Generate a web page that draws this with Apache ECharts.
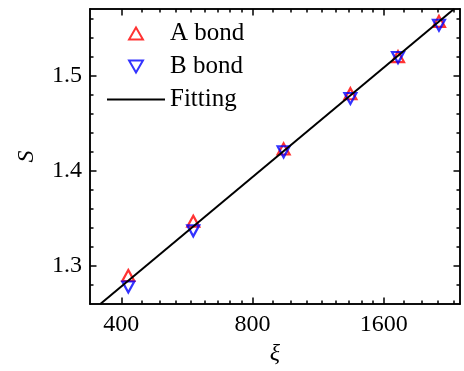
<!DOCTYPE html>
<html>
<head>
<meta charset="utf-8">
<script src="https://cdn.jsdelivr.net/npm/echarts@6/dist/echarts.min.js"></script>
<style>
html,body{margin:0;padding:0;background:#fff;}
#c{width:464px;height:371px;}
</style>
</head>
<body>
<div id="c"></div>
<script>
// ---- data ----
const xi = [415, 585, 943, 1342, 1726, 2143];
const sA = [1.290, 1.347, 1.423, 1.481, 1.520, 1.557];
const sB = [1.278, 1.337, 1.420, 1.476, 1.519, 1.553];
const fitXi = [358, 2320];
const fitS = [1.26, 1.57];
const xTicks = [400, 800, 1600];
const yTicks = [1.3, 1.4, 1.5];
const xRange = [339, 2395];
const yRange = [1.26, 1.57];

// minor tick positions (8 linear minors per doubling, as in the reference)
const xMinor = [];
[[400, 800], [800, 1600], [1600, 3200]].forEach(([a, b]) => {
  for (let k = 1; k < 9; k++) { const v = a + k * (b - a) / 9; if (v < xRange[1]) xMinor.push(v); }
});
const yMinor = [];
for (let k = 0; k <= 15; k++) { const v = +(1.26 + 0.02 * k).toFixed(2); if (v > 1.26 && v < 1.57 && yTicks.indexOf(v) < 0) yMinor.push(v); }

const FONT = 'Liberation Serif';
const axisLine = { show: true, lineStyle: { color: '#000', width: 1.5 } };

function xAx(pos, vals, len, lab) {
  return {
    type: 'log', logBase: 2, min: xRange[0], max: xRange[1], position: pos,
    axisLine: axisLine,
    axisTick: { show: true, inside: true, length: len, customValues: vals, lineStyle: { color: '#000', width: 1.5 } },
    axisLabel: { show: lab, customValues: vals, margin: 9, color: '#000', fontFamily: FONT, fontSize: 24,
      formatter: v => String(Math.round(v)) },
    splitLine: { show: false }, minorTick: { show: false },
    name: lab ? 'ξ' : '', nameLocation: 'middle', nameGap: 33,
    nameTextStyle: { color: '#000', fontFamily: FONT, fontSize: 24, fontStyle: 'italic' }
  };
}
function yAx(pos, vals, len, lab) {
  return {
    type: 'value', min: yRange[0], max: yRange[1], position: pos,
    axisLine: axisLine,
    axisTick: { show: true, inside: true, length: len, customValues: vals, lineStyle: { color: '#000', width: 1.5 } },
    axisLabel: { show: lab, customValues: vals, margin: 8, color: '#000', fontFamily: FONT, fontSize: 24,
      formatter: v => v.toFixed(1) },
    splitLine: { show: false },
    name: lab ? 'S' : '', nameLocation: 'middle', nameGap: 51, nameRotate: 90,
    nameTextStyle: { color: '#000', fontFamily: FONT, fontSize: 24, fontStyle: 'italic' }
  };
}

const chart = echarts.init(document.getElementById('c'), null, { renderer: 'canvas' });
chart.setOption({
  animation: false,
  backgroundColor: '#fff',
  grid: { left: 90, right: 4, top: 9, bottom: 64, containLabel: false },
  xAxis: [xAx('bottom', xTicks, 6.5, true), xAx('bottom', xMinor, 3.5, false), xAx('top', xTicks, 6.5, false), xAx('top', xMinor, 3.5, false)],
  yAxis: [yAx('left', yTicks, 6.5, true), yAx('left', yMinor, 3.5, false), yAx('right', yTicks, 6.5, false), yAx('right', yMinor, 3.5, false)],
  legend: {
    orient: 'vertical', left: 101, top: 16,
    itemWidth: 58, itemHeight: 12, itemGap: 8,
    textStyle: { color: '#000', fontFamily: FONT, fontSize: 25, lineHeight: 22 },
    data: [
      { name: 'A bond', icon: 'path://M10,0L20,17.3L0,17.3Z' },
      { name: 'B bond', icon: 'path://M0,0L20,0L10,17.3Z' },
      { name: 'Fitting', itemStyle: { opacity: 0 } }
    ]
  },
  series: [
    { name: 'Fitting', type: 'line', symbol: 'none', z: 3,
      data: fitXi.map((x, i) => [x, fitS[i]]),
      lineStyle: { color: '#000', width: 2 }, itemStyle: { color: '#000' } },
    { name: 'A bond', type: 'scatter', symbol: 'path://M10,0L20,17.3L0,17.3Z', symbolSize: [12, 11], z: 2,
      data: xi.map((x, i) => [x, sA[i]]),
      itemStyle: { color: 'transparent', borderColor: '#ff0000', borderWidth: 2.2 } },
    { name: 'B bond', type: 'scatter', symbol: 'path://M0,0L20,0L10,17.3Z', symbolSize: [12, 11], z: 2,
      data: xi.map((x, i) => [x, sB[i]]),
      itemStyle: { color: 'transparent', borderColor: '#0000ff', borderWidth: 2.2 } }
  ]
});
</script>
</body>
</html>
